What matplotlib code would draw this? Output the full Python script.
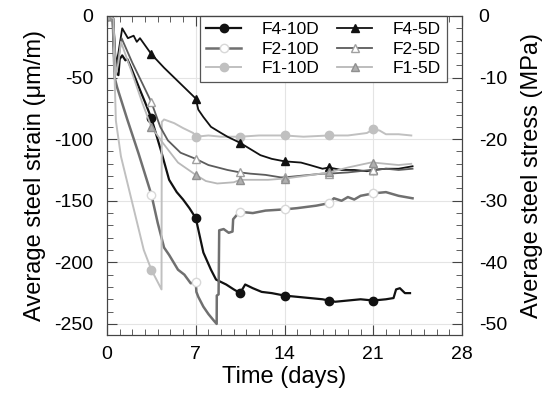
import numpy as np
import matplotlib
matplotlib.use("Agg")
import matplotlib.pyplot as plt
from matplotlib.ticker import MultipleLocator

plt.rcParams['font.family'] = ['Liberation Sans', 'DejaVu Sans']
plt.rcParams['axes.unicode_minus'] = False

# Time in days and average steel strain (um/m)
f4_10d_days = [0, 0.45, 0.6, 0.9, 1.0, 1.2, 1.45, 1.6, 1.9, 2.6, 3.0, 3.5, 4.25, 4.9, 5.5, 6.0,
               6.5, 7.0, 7.3, 7.6, 8.2, 8.6, 9.0, 9.4, 10.0, 10.5, 10.9, 11.5, 12.2, 13.0, 14.0,
               15.0, 16.0, 17.0, 17.5, 18.0, 19.0, 20.0, 21.0, 22.0, 22.6, 22.8, 23.1, 23.5, 23.9]
f4_10d = [0, -2, -45, -48, -35, -32, -36, -35, -42, -60, -70, -83, -109, -133, -143, -149,
          -156, -164, -178, -192, -206, -214, -216, -218, -222, -225, -218, -221, -224, -225, -227,
          -228, -229, -230, -231, -232, -231, -230, -231, -230, -229, -222, -221, -225, -225]

f2_10d_days = [0, 0.45, 0.6, 0.8, 1.6, 2.5, 3.5, 4.0, 4.5, 4.9, 5.6, 6.1, 6.6, 7.0, 7.05, 7.2,
               7.6, 8.0, 8.4, 8.65, 8.66, 8.8, 8.85, 9.2, 9.6, 9.9, 9.95, 10.2, 10.5, 11.5, 12.5,
               14.0, 15.0, 16.5, 17.5, 17.9, 18.5, 19.0, 19.5, 20.0, 20.5, 21.0, 22.0, 23.0, 24.1]
f2_10d = [0, -2, -50, -58, -84, -112, -145, -168, -188, -194, -206, -210, -217, -216, -224, -228,
          -236, -242, -247, -250, -227, -226, -174, -173, -176, -175, -165, -162, -159, -160, -158,
          -157, -156, -154, -152, -148, -150, -147, -149, -146, -145, -144, -143, -146, -148]

f1_10d_days = [0, 0.5, 0.6, 0.7, 1.1, 2.0, 2.9, 3.5, 4.0, 4.3, 4.32, 4.5, 5.3, 6.0, 6.8, 7.0,
               8.0, 9.0, 10.5, 12.0, 14.0, 15.5, 17.5, 19.0, 20.5, 21.0, 21.5, 22.0, 23.0, 24.0]
f1_10d = [0, -2, -50, -85, -114, -152, -190, -206, -216, -222, -86, -84, -87, -91, -95, -98,
          -97, -98, -98, -97, -97, -98, -97, -97, -95, -92, -93, -96, -96, -97]

f4_5d_days = [0, 0.5, 0.7, 0.9, 1.2, 1.65, 2.1, 2.35, 2.6, 3.5, 4.5, 5.5, 6.3, 7.0, 7.2, 7.6,
              8.2, 9.0, 9.5, 10.5, 11.3, 12.1, 13.0, 14.0, 15.3, 16.0, 17.0, 17.5, 18.5, 19.5,
              20.5, 21.0, 22.0, 23.0, 24.1]
f4_5d = [0, -2, -40, -30, -10, -18, -16, -21, -18, -31, -42, -52, -60, -67, -76, -82,
         -90, -95, -98, -103, -108, -113, -116, -118, -119, -121, -124, -123, -125, -125,
         -126, -125, -124, -124, -122]

f2_5d_days = [0, 0.5, 0.7, 0.9, 1.15, 2.0, 2.8, 3.5, 4.2, 4.8, 5.8, 7.0, 8.0, 9.5, 10.5, 11.3,
              12.5, 13.7, 14.0, 15.0, 16.0, 17.0, 17.5, 19.0, 20.8, 21.0, 22.0, 23.0, 24.1]
f2_5d = [0, -2, -45, -35, -18, -38, -55, -70, -90, -101, -111, -116, -121, -125, -127, -128,
         -129, -131, -131, -130, -129, -128, -128, -127, -125, -125, -124, -125, -124]

f1_5d_days = [0, 0.5, 0.7, 0.9, 1.1, 2.0, 2.8, 3.5, 4.4, 5.6, 7.0, 7.8, 8.7, 10.0, 10.5, 12.7,
              14.0, 15.5, 17.5, 19.0, 20.8, 21.0, 22.0, 23.0, 24.0]
f1_5d = [0, -2, -48, -38, -21, -47, -71, -90, -103, -119, -129, -134, -136, -135, -133, -133,
         -132, -130, -127, -123, -119, -119, -120, -121, -120]

marker_days = [0, 3.5, 7, 10.5, 14, 17.5, 21]

series = [
    ('F4-10D', f4_10d_days, f4_10d, dict(color='#111111', lw=1.6, marker='o', mfc='#111111', mec='#111111')),
    ('F2-10D', f2_10d_days, f2_10d, dict(color='#707070', lw=1.8, marker='o', mfc='white', mec='#d8d8d8')),
    ('F1-10D', f1_10d_days, f1_10d, dict(color='#c0c0c0', lw=1.4, marker='o', mfc='#c0c0c0', mec='#c0c0c0')),
    ('F4-5D', f4_5d_days, f4_5d, dict(color='#111111', lw=1.3, marker='^', mfc='#111111', mec='#111111')),
    ('F2-5D', f2_5d_days, f2_5d, dict(color='#5c5c5c', lw=1.3, marker='^', mfc='white', mec='#a0a0a0')),
    ('F1-5D', f1_5d_days, f1_5d, dict(color='#b8b8b8', lw=1.3, marker='^', mfc='#b0b0b0', mec='#909090')),
]

fig = plt.figure(figsize=(5.53, 3.99), dpi=100)
ax = fig.add_axes([107 / 553, 64 / 399, 355 / 553, 319 / 399])

for label, days, vals, style in series:
    days = np.asarray(days)
    mask = np.isin(days, marker_days)
    ax.plot(days, vals, label=label, markevery=list(mask), ms=6, **style)

ax.set_xlim(0, 28)
ax.set_ylim(-259, 0)
ax.xaxis.set_major_locator(MultipleLocator(7))
ax.xaxis.set_minor_locator(MultipleLocator(1))
ax.yaxis.set_major_locator(MultipleLocator(50))
ax.yaxis.set_minor_locator(MultipleLocator(10))
ax.grid(True, which='major', color='#e4e4e4', lw=0.8)
ax.set_axisbelow(True)
ax.tick_params(which='both', direction='in', top=True, labelsize=14, color='#444444')
ax.tick_params(which='major', length=7)
ax.tick_params(which='minor', length=4)
ax.tick_params(axis='x', pad=8)
ax.tick_params(axis='y', pad=10)
for s in ax.spines.values():
    s.set_color('#444444')

ax.set_xlabel('Time (days)', fontsize=17, labelpad=2)
ax.set_ylabel('Average steel strain (\u03bcm/m)', fontsize=17, labelpad=6)

# stress axis: E = 200 GPa, so 50 um/m -> 10 MPa
ax2 = ax.twinx()
lo, hi = ax.get_ylim()
ax2.set_ylim(lo * 0.2, hi * 0.2)
ax2.yaxis.set_major_locator(MultipleLocator(10))
ax2.yaxis.set_minor_locator(MultipleLocator(2))
ax2.tick_params(which='both', direction='in', labelsize=14, color='#444444', pad=12)
ax2.tick_params(which='major', length=7)
ax2.tick_params(which='minor', length=4)
for s in ax2.spines.values():
    s.set_color('#444444')
ax2.set_ylabel('Average steel stress (MPa)', fontsize=17, labelpad=10)

leg = ax.legend(ncol=2, loc='upper right', bbox_to_anchor=(0.958, 1.0), borderaxespad=0,
                fontsize=12.5, fancybox=False, framealpha=1, edgecolor='#555555',
                handlelength=2.0, handletextpad=1.2, columnspacing=1.0, labelspacing=0.25,
                borderpad=0.35)
leg.get_frame().set_linewidth(0.9)
leg.set_zorder(5)

fig.savefig('out.png', dpi=100)
